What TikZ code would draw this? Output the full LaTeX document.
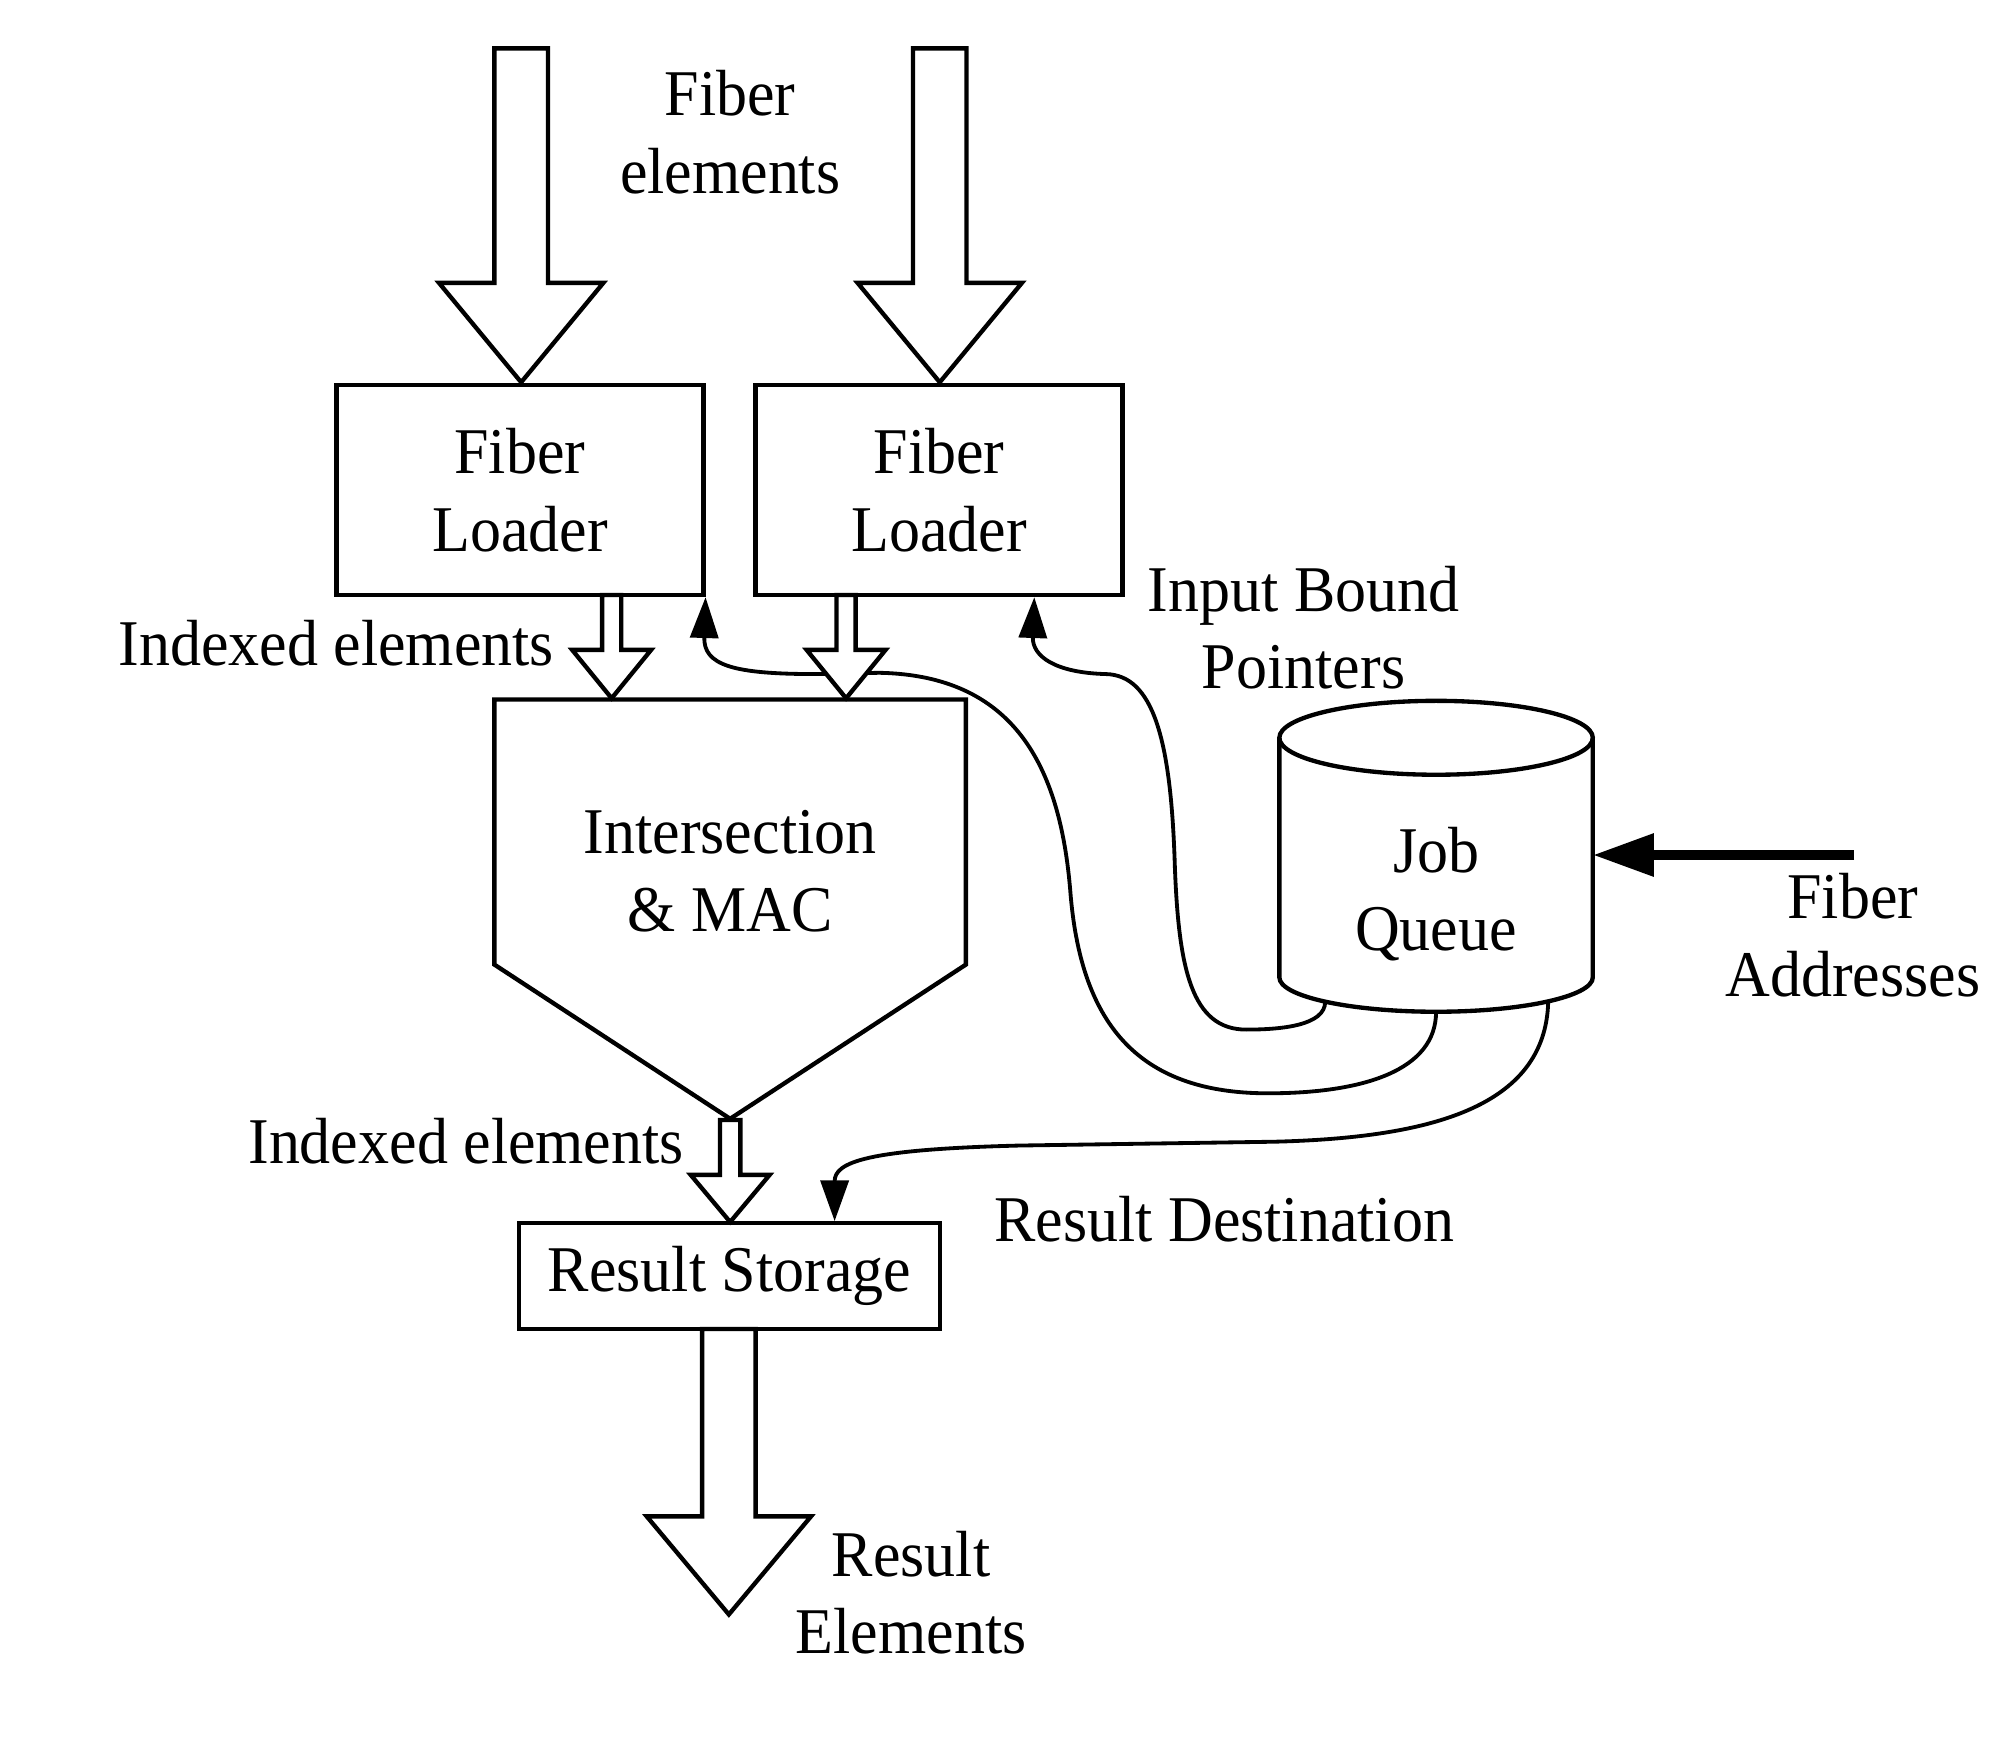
\documentclass[tikz,border=0pt]{standalone}
\usepackage{fontspec}
\setmainfont{Liberation Serif}[FakeStretch=0.95]
\usetikzlibrary{arrows.meta}
\newcommand\blockarrow[6]{%
  \draw[blk] (#1-#4,#2) -- (#1+#4,#2) -- (#1+#4,#3-#6) -- (#1+#5,#3-#6)
    -- (#1,#3) -- (#1-#5,#3-#6) -- (#1-#4,#3-#6) -- cycle;}
\begin{document}
\begin{tikzpicture}[x=0.5pt,y=-0.5pt,
  lbl/.style={font=\fontsize{25.6}{30.5}\selectfont, align=center, inner sep=0pt},
  box/.style={draw, line width=1.7pt, inner sep=0pt, fill=white,
    font=\fontsize{25.6}{30.5}\selectfont, align=center},
  blk/.style={draw, line width=1.7pt, fill=white, line join=miter},
  conn/.style={line width=1.5pt, -{Triangle[length=16pt,width=11pt]}},
  feed/.style={line width=4pt, -{Triangle[length=24pt,width=16pt]}}
]
\fill[white] (0,0) rectangle (1568,1379.6);
\useasboundingbox (0,0) rectangle (1568,1379.6);

% boxes
\node[box, minimum width=144pt, minimum height=82.5pt] (fl1) at (408,384.5) {Fiber\\Loader};
\node[box, minimum width=144pt, minimum height=82.5pt] (fl2) at (737,384.5) {Fiber\\Loader};
\node[box, minimum width=165pt, minimum height=41.5pt] (rs) at (572.5,1001.5) {Result Storage};

% intersection pentagon
\draw[blk] (388,549) -- (758,549) -- (758,757) -- (573,878) -- (388,757) -- cycle;
\node[lbl] (im) at (573,684) {Intersection\\\& MAC};

% job queue cylinder
\draw[blk] (1004,579) -- (1004,767)
  .. controls (1004,781.9) and (1059.1,794) .. (1127,794)
  .. controls (1194.9,794) and (1250,781.9) .. (1250,767) -- (1250,579);
\draw[line width=1.7pt] (1127,579) ellipse [x radius=61.5pt, y radius=14.5pt];
\node[lbl] (jq) at (1127,702) {Job\\Queue};
\coordinate (jqA) at (1040,786);
\coordinate (jqB) at (1127,794);
\coordinate (jqC) at (1215,786);
\coordinate (jqE) at (1250,671);
\coordinate (faS) at (1455,671);

% connectors from the job queue
\draw[conn] (jqA) .. controls (1040,805) and (1005,808) .. (978,808)
  .. controls (935,808) and (925,760) .. (922,680)
  .. controls (919,580) and (905,530) .. (868,529)
  .. controls (828,528) and (810,515) .. ([xshift=-35.5pt]fl2.south east);
\draw[conn] (jqB) .. controls (1127,840) and (1070,858) .. (995,858)
  .. controls (890,858) and (848,800) .. (840,700)
  .. controls (832,600) and (795,530) .. (690,528)
  -- (640,529)
  .. controls (575,529) and (552,522) .. (fl1.south east);
\draw[conn] (jqC) .. controls (1213,870) and (1120,893) .. (1000,896)
  -- (800,899)
  .. controls (680,902) and (655,912) .. ([xshift=41.25pt]rs.north);
\draw[feed] (faS) -- (jqE);

% block arrows
\blockarrow{409}{38}{300}{21}{64.5}{78}
\blockarrow{737.5}{38}{300}{21}{64.5}{78}
\blockarrow{480}{467}{548}{7.5}{31}{38}
\blockarrow{664}{467}{548}{7.5}{31}{38}
\blockarrow{573}{879}{959}{8}{31}{37}
\blockarrow{572}{1043}{1267}{21}{64.5}{77}

% labels
\node[lbl] (fe) at (573,104) {Fiber\\elements};
\node[lbl, anchor=base east] (ie1) at (435,522) {Indexed elements};
\node[lbl, anchor=base east] (ie2) at (537,913) {Indexed elements};
\node[lbl] (ibp) at (1023,492.5) {Input Bound\\Pointers};
\node[lbl] (fad) at (1454,734) {Fiber\\Addresses};
\node[lbl, anchor=base west] (rd) at (780,974) {Result Destination};
\node[lbl] (re) at (715,1250) {Result\\Elements};
\end{tikzpicture}
\end{document}
